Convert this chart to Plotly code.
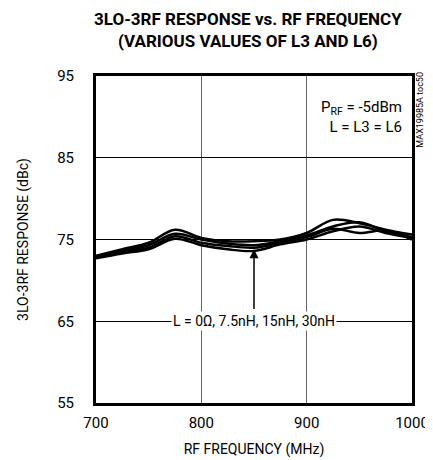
import plotly.graph_objects as go

freq = [700, 725, 750, 775, 800, 825, 850, 875, 900, 925, 950, 975, 1000]
resp_a = [73.0, 73.8, 74.6, 76.2, 75.2, 74.8, 74.8, 75.0, 75.8, 77.4, 77.0, 76.2, 75.6]
resp_b = [72.9, 73.6, 74.3, 75.7, 75.0, 74.5, 74.3, 74.8, 75.5, 76.6, 77.1, 76.0, 75.3]
resp_c = [72.8, 73.5, 74.0, 75.4, 74.6, 74.2, 74.0, 74.6, 75.3, 76.3, 75.8, 76.1, 75.0]
resp_d = [72.7, 73.3, 73.8, 75.1, 74.3, 73.8, 73.6, 74.4, 75.0, 76.0, 76.6, 75.8, 75.2]
series = [resp_a, resp_b, resp_c, resp_d]

x_ticks = [700, 800, 900, 1000]
y_ticks = [55, 65, 75, 85, 95]

FONT = "Roboto, Arial"

fig = go.Figure()
for s in series:
    fig.add_trace(go.Scatter(x=freq, y=s, mode="lines",
                             line=dict(color="black", width=2.5, shape="spline"),
                             showlegend=False, hoverinfo="skip"))

fig.update_layout(
    width=433, height=460,
    margin=dict(l=88, r=17, t=68, b=63),
    paper_bgcolor="white", plot_bgcolor="white",
    font=dict(family=FONT, size=14, color="black"),
    xaxis=dict(range=[700, 1000], tickvals=x_ticks, ticks="", showgrid=True,
               gridcolor="#666", gridwidth=1, zeroline=False,
               showline=True, linecolor="black", linewidth=3, mirror=True,
               ticklabelstandoff=4,
               title=dict(text="RF FREQUENCY (MHz)", standoff=14,
                          font=dict(family=FONT, size=14)),
               tickfont=dict(family=FONT, size=15)),
    yaxis=dict(range=[55, 95], tickvals=y_ticks, ticks="", showgrid=True,
               gridcolor="black", gridwidth=1, zeroline=False,
               showline=True, linecolor="black", linewidth=3, mirror=True,
               ticklabelstandoff=16,
               title=dict(text="3LO-3RF RESPONSE (dBc)", standoff=26,
                          font=dict(family=FONT, size=14)),
               tickfont=dict(family=FONT, size=15)),
)

fig.add_annotation(x=0.48, y=1.14, xref="paper", yref="paper",
                   xanchor="center", yanchor="middle", showarrow=False,
                   text="<b>3LO-3RF RESPONSE vs. RF FREQUENCY<br>(VARIOUS VALUES OF L3 AND L6)</b>",
                   font=dict(family=FONT, size=17, color="black"))
fig.add_annotation(x=850, y=73.8, ax=850, ay=66.3, axref="x", ayref="y",
                   xref="x", yref="y", text="", showarrow=True,
                   arrowhead=2, arrowsize=1.2, arrowwidth=1.5, arrowcolor="black")
fig.add_annotation(x=850, y=65, xref="x", yref="y",
                   text="L = 0Ω, 7.5nH, 15nH, 30nH", showarrow=False,
                   bgcolor="white", font=dict(family=FONT, size=14))
fig.add_annotation(x=0.975, y=0.94, xref="paper", yref="paper", xanchor="right",
                   yanchor="top", align="right", showarrow=False,
                   text="P<sub>RF</sub> = -5dBm<br>L = L3 = L6",
                   font=dict(family=FONT, size=15))
fig.add_annotation(x=1.026, y=1.02, xref="paper", yref="paper", xanchor="center",
                   yanchor="top", textangle=-90, showarrow=False,
                   text="MAX19985A toc50", font=dict(family=FONT, size=9))

fig.write_html("out.html")
